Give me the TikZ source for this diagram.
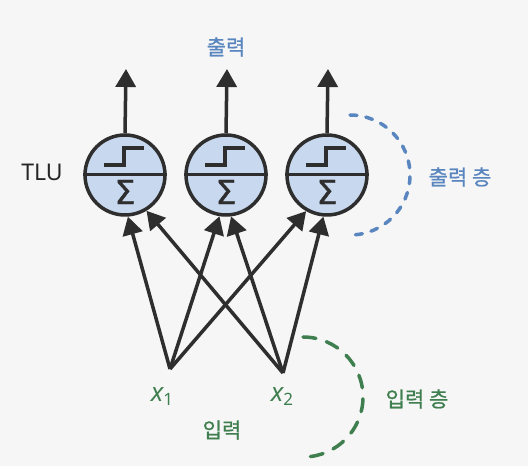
\documentclass[tikz,border=0pt]{standalone}
\usepackage{fontspec}
\setmainfont{Noto Sans}
\newfontfamily\kr[FakeBold=0.8]{Noto Sans CJK KR}
\newfontfamily\sigfont[FakeBold=1.2]{DejaVu Sans}
\usetikzlibrary{arrows.meta}
\definecolor{nfill}{HTML}{C8D8EF}
\definecolor{nline}{HTML}{2E2E2E}
\definecolor{lblue}{HTML}{5A86BF}
\definecolor{lgreen}{HTML}{3F7F4F}
\definecolor{bg}{HTML}{F6F6F6}
\newcommand{\bigsig}{{\sigfont\fontsize{33}{35}\selectfont\symbol{"03A3}}}
\tikzset{
  tlu/.style={circle, draw=nline, fill=nfill, line width=3.5pt, minimum size=80pt, inner sep=0pt},
  conn/.style={draw=nline, line width=3.5pt, -{Triangle[width=20pt,length=18pt]}},
  bluelbl/.style={text=lblue, font=\kr\fontsize{21}{23}\selectfont},
  greenlbl/.style={text=lgreen, font=\kr\fontsize{21}{23}\selectfont},
  xlbl/.style={text=lgreen, font=\fontsize{26}{28}\selectfont\itshape, anchor=base, inner sep=0pt},
  layerarc/.style={line width=3.5pt, line cap=round},
  sigma/.style={text=nline, inner sep=0pt},
}
\begin{document}
\begin{tikzpicture}[x=1pt,y=1pt]
\fill[bg] (0,0) rectangle (528,466);
\useasboundingbox (0,0) rectangle (528,466);

% neurons
\foreach \i/\cx in {1/125,2/226,3/327}{
  \node[tlu] (n\i) at (\cx,291) {};
  \draw[nline, line width=3pt] (n\i.west) -- (n\i.east);
  \draw[nline, line width=3.5pt] ([shift={(-21,10)}]n\i.center) -- ++(20,0) -- ++(0,17) -- ++(20,0);
  \coordinate (o\i) at (\cx+1,397);
  \draw[conn] (n\i.north) -- (o\i);
}
\node[sigma] (s1) at ([shift={(0,-17)}]n1.center) {\bigsig};
\node[sigma] (s2) at ([shift={(0,-17)}]n2.center) {\bigsig};
\node[sigma] (s3) at ([shift={(0,-17)}]n3.center) {\bigsig};

\node[font=\fontsize{23}{25}\selectfont, text=black!85] (tlu) at (42,294) {TLU};
\node[bluelbl] (out) at (226,419) {출력};

% inputs
\coordinate (in1) at (170,97);
\coordinate (in2) at (283,93);
\node[xlbl] (x1) at (162,64) {x\raisebox{-4pt}{\fontsize{17}{18}\selectfont\upshape 1}};
\node[xlbl] (x2) at (282,64) {x\raisebox{-4pt}{\fontsize{17}{18}\selectfont\upshape 2}};
\node[greenlbl] (inp) at (222,36) {입력};

\draw[conn] (in1) -- (n1.274);
\draw[conn] (in2) -- (n1.301);
\draw[conn] (in1) -- (n2.261);
\draw[conn] (in2) -- (n2.277);
\draw[conn] (in1) -- (n3.240);
\draw[conn] (in2) -- (n3.265);

% layer arcs
\coordinate (bc) at (350,291);
\draw[layerarc, lblue, dash pattern=on 7pt off 9pt] (bc) ++(90:60) arc[start angle=90, end angle=-90, radius=60];
\node[bluelbl] (outl) at (460,289) {출력 층};

\coordinate (gc) at (303,69);
\draw[layerarc, lgreen, dash pattern=on 13pt off 11pt] (gc) ++(90:60) arc[start angle=90, end angle=-88, radius=60];
\node[greenlbl] (inl) at (417,67) {입력 층};
\end{tikzpicture}
\end{document}
